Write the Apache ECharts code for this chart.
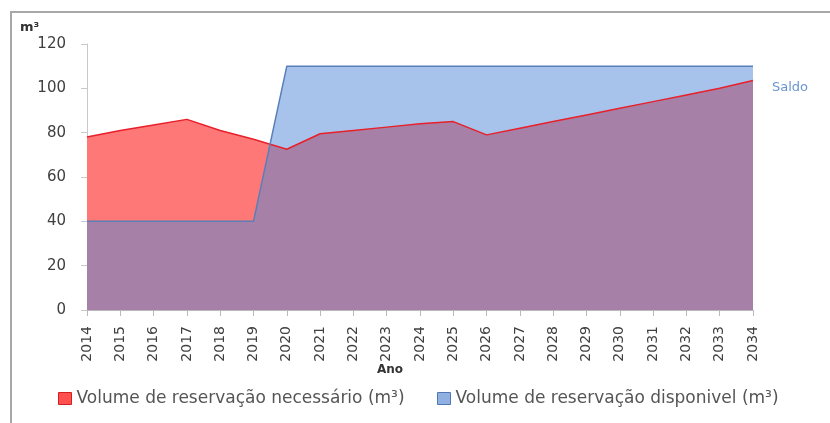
<!DOCTYPE html>
<html>
<head>
<meta charset="utf-8">
<script src="https://cdn.jsdelivr.net/npm/echarts@6/dist/echarts.min.js"></script>
<style>
  html, body { margin: 0; padding: 0; background: #fff; }
  #chart { width: 830px; height: 423px; }
</style>
</head>
<body>
<div id="chart"></div>
<script>
// dados
const anos = ['2014', '2015', '2016', '2017', '2018', '2019', '2020', '2021', '2022', '2023', '2024',
  '2025', '2026', '2027', '2028', '2029', '2030', '2031', '2032', '2033', '2034'];
const volNecessario = [78, 81, 83.5, 86, 81, 77, 72.5, 79.5, 81, 82.5, 84, 85, 79, 82, 85, 88, 91, 94, 97, 100, 103.5];
const volDisponivel = [40, 40, 40, 40, 40, 40, 110, 110, 110, 110, 110, 110, 110, 110, 110, 110, 110, 110, 110, 110, 110];
const nomes = ['Volume de reservação necessário (m³)', 'Volume de reservação disponivel (m³)'];

const chart = echarts.init(document.getElementById('chart'));
const font = '"DejaVu Sans", sans-serif';

const legendBase = {
  top: 385,
  itemWidth: 13,
  itemHeight: 12,
  itemGap: 4,
  icon: 'rect',
  textStyle: { fontSize: 17, color: '#555', fontFamily: font },
  selectedMode: false,
};

chart.setOption({
  animation: false,
  textStyle: { fontFamily: font },
  grid: { left: 87, right: 77, top: 44, bottom: 113 },
  graphic: [
    { type: 'rect', shape: { x: 11, y: 12, width: 840, height: 440 }, style: { fill: 'none', stroke: '#a8a8a8', lineWidth: 2 } },
    { type: 'text', left: 20, top: 21, style: { text: 'm³', font: 'bold 13px ' + font, fill: '#333' } },
    { type: 'text', left: 772, top: 81, style: { text: 'Saldo', font: '13px ' + font, fill: '#6a95d2' } },
    { type: 'text', left: 377, top: 364, style: { text: 'Ano', font: 'bold 12px ' + font, fill: '#333' } },
  ],
  legend: [
    Object.assign({}, legendBase, {
      left: 53,
      data: [{ name: nomes[0], itemStyle: { color: '#ff5050', borderColor: '#d02020', borderWidth: 1 } }],
    }),
    Object.assign({}, legendBase, {
      left: 432,
      data: [{ name: nomes[1], itemStyle: { color: '#8fb0e0', borderColor: '#4f78b5', borderWidth: 1 } }],
    }),
  ],
  xAxis: {
    type: 'category',
    data: anos,
    boundaryGap: false,
    axisLine: { lineStyle: { color: '#b8b8b8' } },
    axisTick: { show: true, length: 6, lineStyle: { color: '#b8b8b8' } },
    axisLabel: { rotate: 90, fontSize: 14, color: '#404040', margin: 16, interval: 0 },
  },
  yAxis: {
    type: 'value',
    min: 0,
    max: 120,
    interval: 20,
    splitLine: { show: false },
    axisLine: { show: true, lineStyle: { color: '#c8c8c8' } },
    axisTick: { show: true, length: 6, lineStyle: { color: '#c8c8c8' } },
    axisLabel: { fontSize: 15, color: '#404040', margin: 21 },
  },
  series: [
    {
      name: nomes[0],
      type: 'line',
      data: volNecessario,
      symbol: 'none',
      lineStyle: { color: '#e8202a', width: 1.5 },
      itemStyle: { color: '#ff5050' },
      areaStyle: { color: '#ff7878', opacity: 1 },
    },
    {
      name: nomes[1],
      type: 'line',
      data: volDisponivel,
      symbol: 'none',
      lineStyle: { color: '#5a7fb8', width: 1.5 },
      itemStyle: { color: '#8fb0e0' },
      areaStyle: { color: 'rgb(80,135,215)', opacity: 0.5 },
    },
  ],
});
</script>
</body>
</html>
